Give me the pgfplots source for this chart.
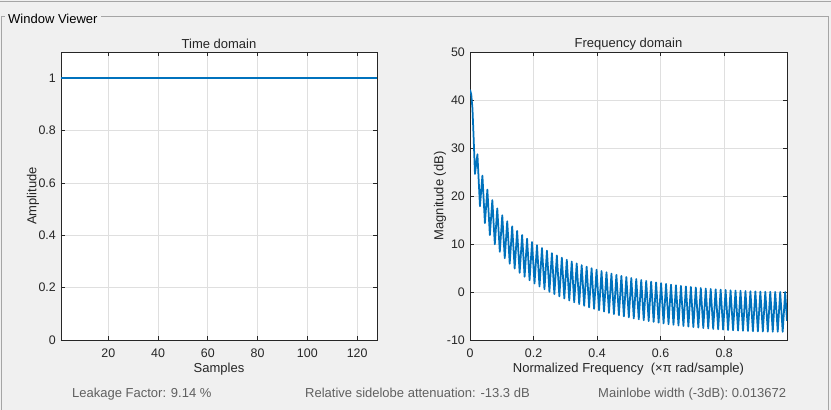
\documentclass[border=0pt]{standalone}
\usepackage{fontspec}
\setmainfont{Liberation Sans}
\usepackage{pgfplots}
\pgfplotsset{compat=1.18}
\definecolor{mlblue}{RGB}{0,114,189}
\definecolor{bgc}{RGB}{240,240,240}
\definecolor{axc}{RGB}{38,38,38}
\definecolor{gridc}{RGB}{223,223,223}
\definecolor{framec}{RGB}{165,165,165}
\definecolor{infotext}{RGB}{96,96,96}
\pgfplotsset{mlaxis/.style={
  scale only axis, height=288pt, anchor=south west,
  axis background/.style={fill=white},
  axis line style={axc, line width=0.9pt},
  tick style={axc, line width=0.8pt},
  major tick length=4pt,
  tick align=inside,
  grid=major, major grid style={gridc, line width=0.8pt},
  /pgf/number format/assume math mode=true,
  tick label style={font=\fontsize{12.4}{14}\selectfont, text=axc},
  label style={font=\fontsize{13}{15}\selectfont, text=axc},
  title style={font=\fontsize{13}{15}\selectfont, text=axc, at={(axis description cs:0.5,1.0278)}, anchor=center, yshift=-6pt},
  yticklabel style={anchor=east, inner sep=0pt, xshift=-5pt},
  xticklabel style={anchor=north, inner sep=0pt, yshift=-8.5pt},
  xlabel style={at={(axis description cs:0.5,-0.1007)}, anchor=center},
}}
\begin{document}
\begin{tikzpicture}
\fill[bgc] (0pt,0pt) rectangle (831pt,410pt);
\useasboundingbox (0pt,0pt) rectangle (831pt,410pt);
\draw[framec, line width=1pt] (0pt,408.7pt) -- (831pt,408.7pt);
\draw[framec, line width=1pt] (1.5pt,0pt) -- (1.5pt,393pt) -- (5pt,393pt);
\draw[framec, line width=1pt] (101pt,393pt) -- (828.7pt,393pt) -- (828.7pt,0pt);
\node[anchor=base west, inner sep=0pt, text=black, font=\fontsize{13}{15}\selectfont] at (8pt,386.7pt) {Window Viewer};

\begin{axis}[mlaxis, width=316pt, at={(61pt,70pt)},
  xmin=1, xmax=128, ymin=0, ymax=1.1,
  xtick={20,40,60,80,100,120}, ytick={0,0.2,0.4,0.6,0.8,1},
  title={Time domain}, xlabel={Samples}, ylabel={Amplitude},
  ylabel style={at={(axis description cs:-0.0886,0.5)}, anchor=center}]
\addplot[mlblue, line width=1.6pt] coordinates {(1,1) (128,1)};
\end{axis}

\begin{axis}[mlaxis, width=317pt, at={(470pt,70pt)},
  xmin=0, xmax=0.998, ymin=-10, ymax=50,
  xtick={0,0.2,0.4,0.6,0.8}, ytick={-10,0,10,20,30,40,50},
  title={Frequency domain}, xlabel={Normalized Frequency\ \ (×π rad/sample)}, ylabel={Magnitude (dB)},
  ylabel style={at={(axis description cs:-0.0946,0.5)}, anchor=center}]
\addplot[mlblue, line width=1.75pt, line join=round] coordinates {
(0,42.14) (0.0039,41.2) (0.0078,38.2) (0.0117,31.7) (0.0156,24.6) (0.0234,28.68) (0.0313,17.88) (0.0391,24.25) (0.0469,14.37) (0.0547,21.33) (0.0625,11.87) (0.0703,19.15) (0.0781,9.94) (0.0859,17.42) (0.0938,8.37) (0.1016,15.98) (0.1094,7.04) (0.1172,14.75) (0.1250,5.90) (0.1328,13.68) (0.1406,4.89) (0.1484,12.73) (0.1563,3.99) (0.1641,11.87) (0.1719,3.18) (0.1797,11.10) (0.1875,2.44) (0.1953,10.40) (0.2031,1.77) (0.2109,9.76) (0.2188,1.15) (0.2266,9.16) (0.2344,0.58) (0.2422,8.61) (0.2500,0.04) (0.2578,8.09) (0.2656,-0.45) (0.2734,7.61) (0.2813,-0.92) (0.2891,7.16) (0.2969,-1.36) (0.3047,6.73) (0.3125,-1.77) (0.3203,6.34) (0.3281,-2.15) (0.3359,5.96) (0.3438,-2.52) (0.3516,5.60) (0.3594,-2.87) (0.3672,5.27) (0.3750,-3.19) (0.3828,4.95) (0.3906,-3.50) (0.3984,4.65) (0.4063,-3.80) (0.4141,4.36) (0.4219,-4.08) (0.4297,4.09) (0.4375,-4.35) (0.4453,3.83) (0.4531,-4.60) (0.4609,3.58) (0.4688,-4.84) (0.4766,3.34) (0.4844,-5.07) (0.4922,3.12) (0.5000,-5.29) (0.5078,2.91) (0.5156,-5.50) (0.5234,2.70) (0.5313,-5.70) (0.5391,2.51) (0.5469,-5.88) (0.5547,2.32) (0.5625,-6.06) (0.5703,2.15) (0.5781,-6.23) (0.5859,1.98) (0.5938,-6.40) (0.6016,1.83) (0.6094,-6.55) (0.6172,1.68) (0.6250,-6.70) (0.6328,1.53) (0.6406,-6.84) (0.6484,1.40) (0.6563,-6.97) (0.6641,1.27) (0.6719,-7.09) (0.6797,1.15) (0.6875,-7.21) (0.6953,1.04) (0.7031,-7.32) (0.7109,0.93) (0.7188,-7.42) (0.7266,0.83) (0.7344,-7.52) (0.7422,0.73) (0.7500,-7.61) (0.7578,0.64) (0.7656,-7.70) (0.7734,0.56) (0.7813,-7.78) (0.7891,0.49) (0.7969,-7.85) (0.8047,0.42) (0.8125,-7.92) (0.8203,0.35) (0.8281,-7.98) (0.8359,0.29) (0.8438,-8.04) (0.8516,0.24) (0.8594,-8.09) (0.8672,0.19) (0.8750,-8.13) (0.8828,0.15) (0.8906,-8.17) (0.8984,0.11) (0.9063,-8.21) (0.9141,0.08) (0.9219,-8.23) (0.9297,0.05) (0.9375,-8.26) (0.9453,0.03) (0.9531,-8.28) (0.9609,0.02) (0.9688,-8.29) (0.9766,0.01) (0.9844,-8.30) (0.9922,0.00) (0.998,-6.0)
};
\end{axis}

\node[anchor=base west, inner sep=0pt, text=infotext, font=\fontsize{13}{15}\selectfont] at (72pt,12.3pt) {Leakage Factor: 9.14 \%};
\node[anchor=base west, inner sep=0pt, text=infotext, font=\fontsize{13}{15}\selectfont] at (305pt,12.3pt) {Relative sidelobe attenuation: -13.3 dB};
\node[anchor=base west, inner sep=0pt, text=infotext, font=\fontsize{13}{15}\selectfont] at (598pt,12.3pt) {Mainlobe width (-3dB): 0.013672};
\end{tikzpicture}
\end{document}
